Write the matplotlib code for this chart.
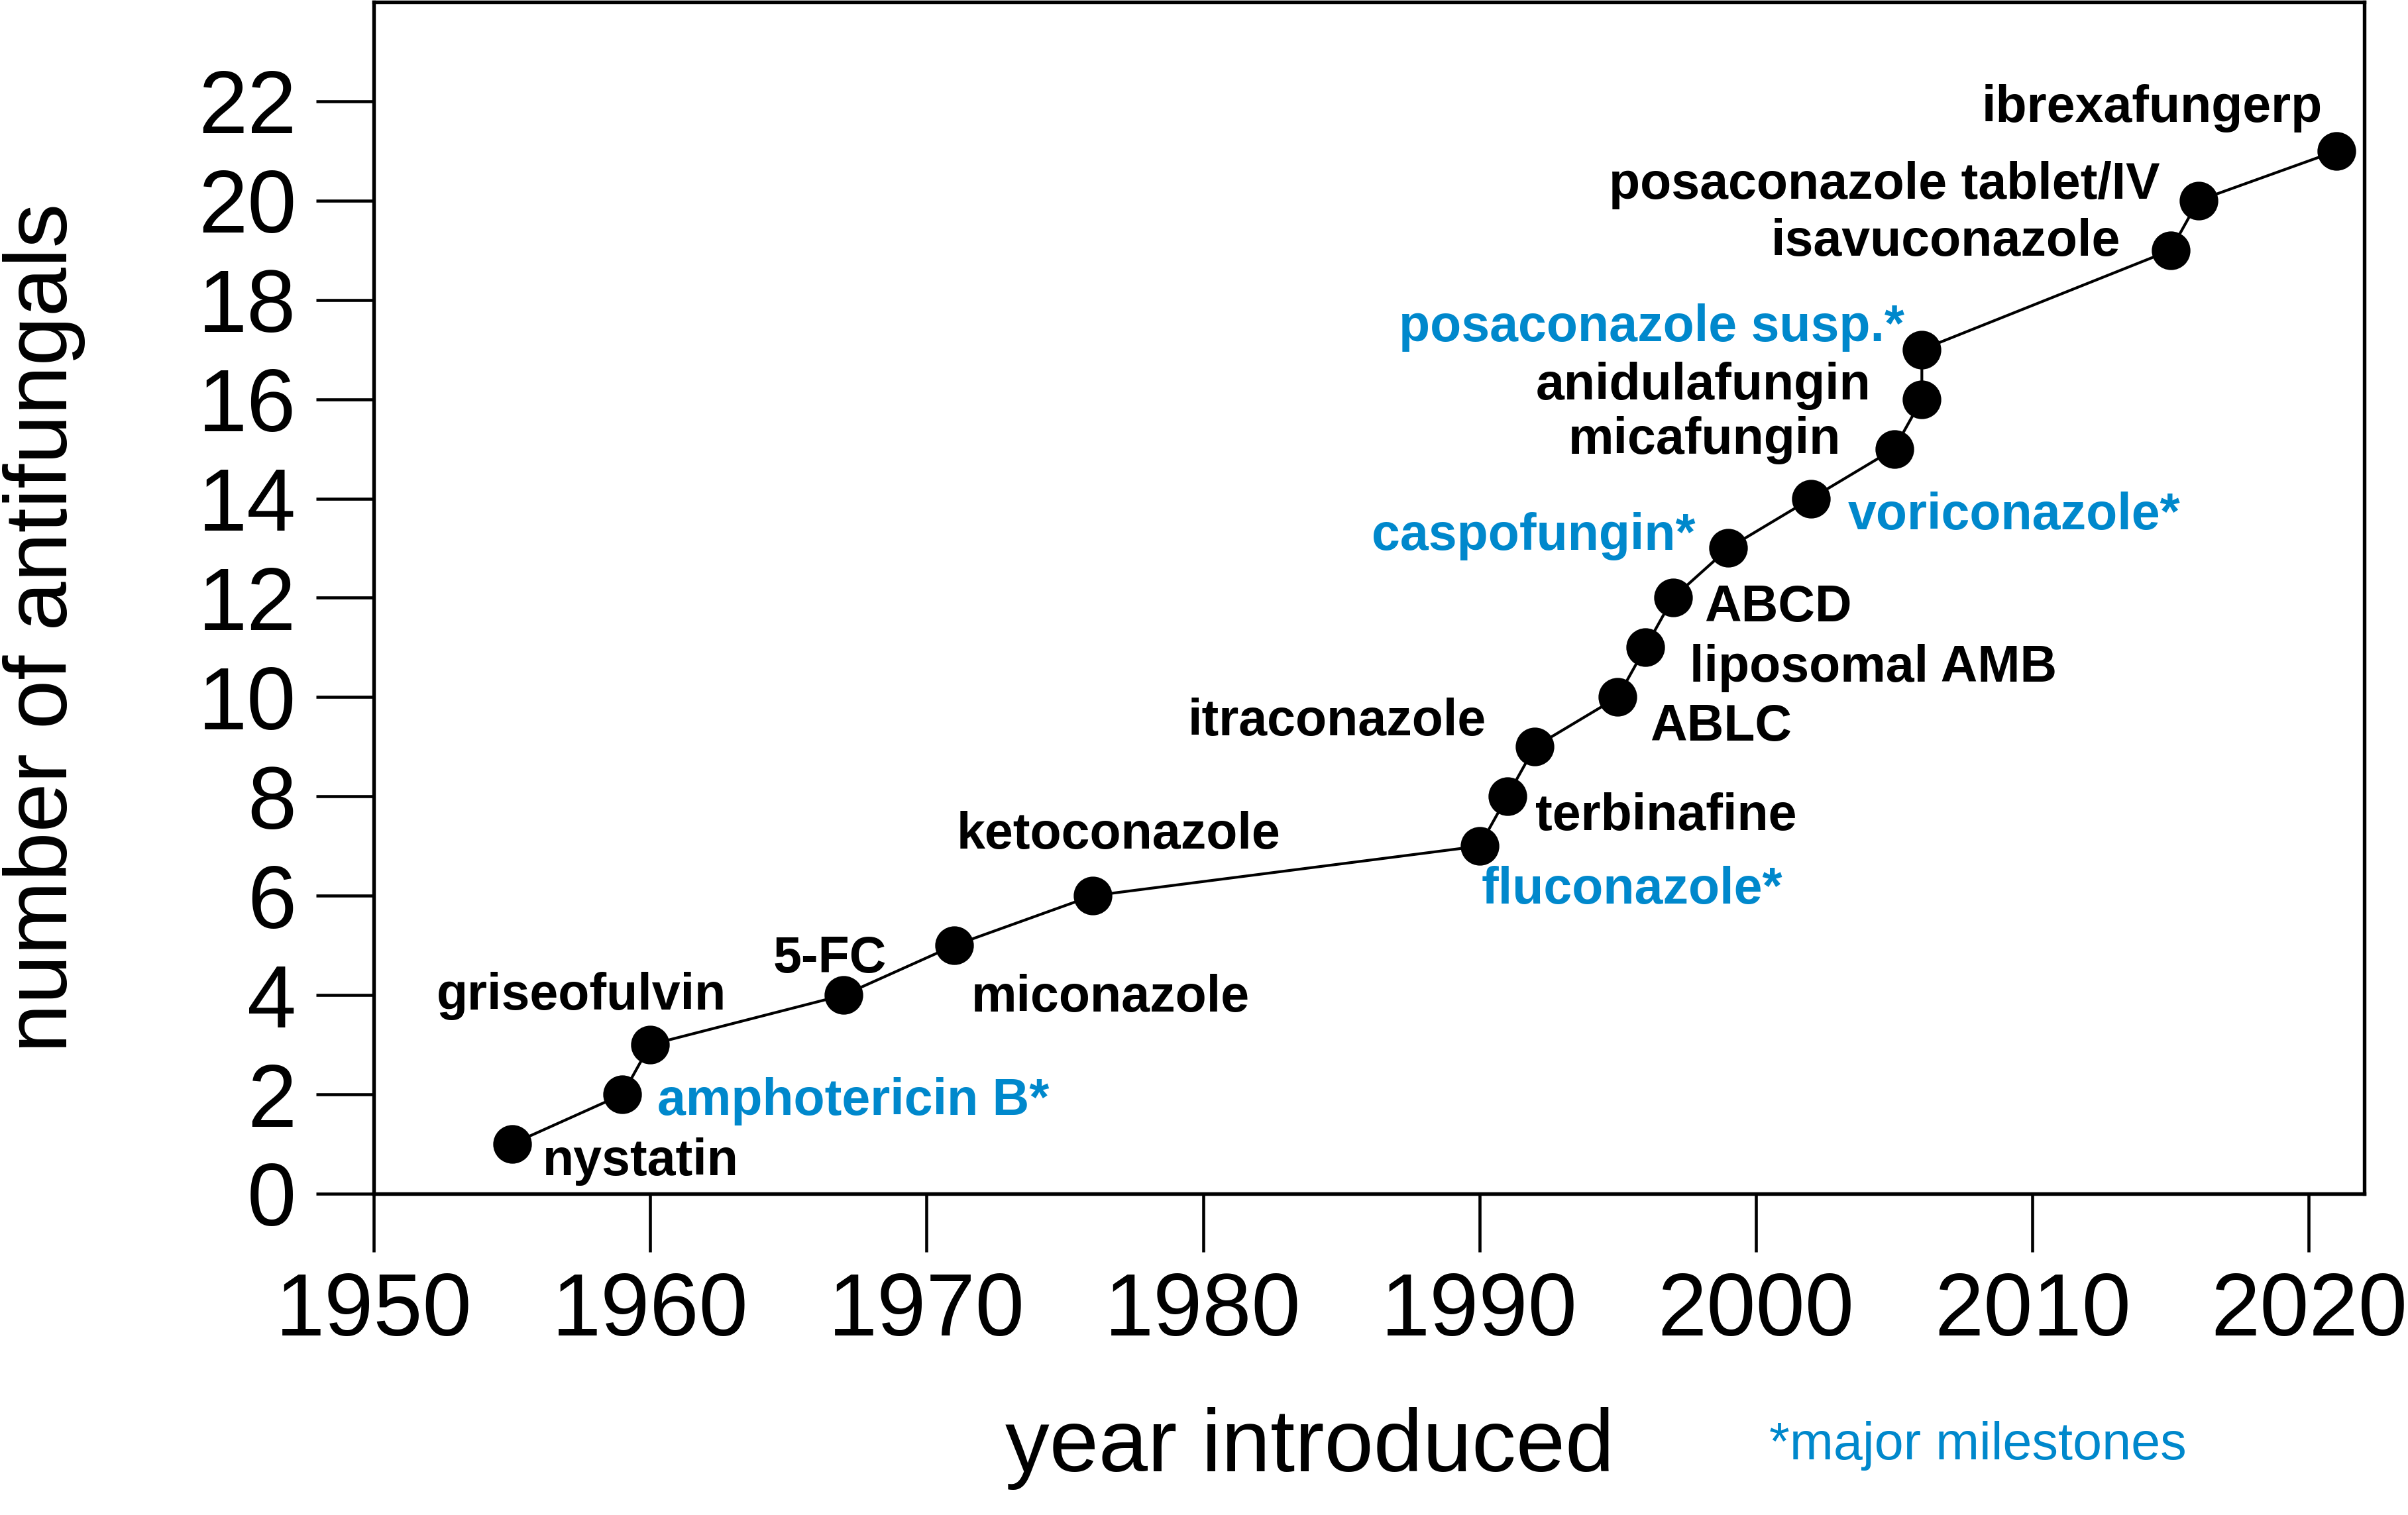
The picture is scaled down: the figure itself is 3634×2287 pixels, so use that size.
import matplotlib
matplotlib.use("Agg")
import matplotlib.pyplot as plt

plt.rcParams['font.family'] = ['Liberation Sans', 'DejaVu Sans']

# year each antifungal was introduced and running count
years = [1955, 1959, 1960, 1967, 1971, 1976, 1990, 1991, 1992, 1995,
         1996, 1997, 1999, 2002, 2005, 2006, 2006, 2015, 2016, 2021]
counts = [1, 2, 3, 4, 5, 6, 7, 8, 9, 10,
          11, 12, 13, 14, 15, 16, 17, 19, 20, 21]
drugs = ['nystatin', 'amphotericin B*', 'griseofulvin', '5-FC', 'miconazole',
         'ketoconazole', 'fluconazole*', 'terbinafine', 'itraconazole', 'ABLC',
         'liposomal AMB', 'ABCD', 'caspofungin*', 'voriconazole*', 'micafungin',
         'anidulafungin', 'posaconazole susp.*', 'isavuconazole',
         'posaconazole tablet/IV', 'ibrexafungerp']
x_ticks = [1950, 1960, 1970, 1980, 1990, 2000, 2010, 2020]
y_ticks = list(range(0, 23, 2))

BLUE = '#0088CC'

# label placement: (ha, dx, dy) in points from the marker, text baseline
label_pos = {
    'nystatin': ('left', 11.1, -11.4),
    'amphotericin B*': ('left', 12.5, -7.5),
    'griseofulvin': ('right', 27.7, 12.8),
    '5-FC': ('right', 15.5, 8.3),
    'miconazole': ('left', 6.1, -23.9),
    'ketoconazole': ('left', -49.3, 17.2),
    'fluconazole*': ('left', 0.6, -20.9),
    'terbinafine': ('left', 10.3, -12.2),
    'itraconazole': ('right', -17.7, 4.1),
    'ABLC': ('left', 11.6, -15.7),
    'liposomal AMB': ('left', 16.0, -12.4),
    'ABCD': ('left', 11.3, -8.5),
    'caspofungin*': ('right', -12.0, -0.5),
    'voriconazole*': ('left', 13.2, -11.2),
    'micafungin': ('right', -19.3, -1.9),
    'anidulafungin': ('right', -18.4, 0.0),
    'posaconazole susp.*': ('right', -6.3, 3.1),
    'isavuconazole': ('right', -18.1, -1.9),
    'posaconazole tablet/IV': ('right', -13.9, 0.6),
    'ibrexafungerp': ('right', -5.2, 10.5),
}

fig = plt.figure(figsize=(3634 / 300, 2287 / 300), dpi=300)
ax = fig.add_axes([0.1552, 0.2121, 0.8266, 0.7866])

ax.plot(years, counts, color='black', linewidth=1.0, marker='o',
        markersize=13, markerfacecolor='black', markeredgecolor='black', zorder=3)

for yr, n, name in zip(years, counts, drugs):
    ha, dx, dy = label_pos[name]
    col = BLUE if name.endswith('*') else 'black'
    ax.annotate(name, (yr, n), xytext=(dx, dy), textcoords='offset points',
                ha=ha, va='baseline', fontsize=18.5, fontweight='bold', color=col)

ax.set_xlim(1950, 2022)
ax.set_ylim(0, 24)
ax.set_xticks(x_ticks)
ax.set_yticks(y_ticks)
ax.tick_params(direction='out', length=21, width=1.1, labelsize=32, pad=7)
for s in ax.spines.values():
    s.set_linewidth(1.3)

fig.text(1977 / 3634, 1 - 2221 / 2287, 'year introduced', fontsize=32,
         ha='center', va='baseline')
fig.text(67 / 3634, 1 - 948 / 2287, 'number of antifungals', fontsize=32,
         ha='center', va='center', rotation=90)
fig.text(2670 / 3634, 1 - 2203 / 2287, '*major milestones', fontsize=19,
         ha='left', va='baseline', color=BLUE)

fig.savefig('out.png', dpi=300)
